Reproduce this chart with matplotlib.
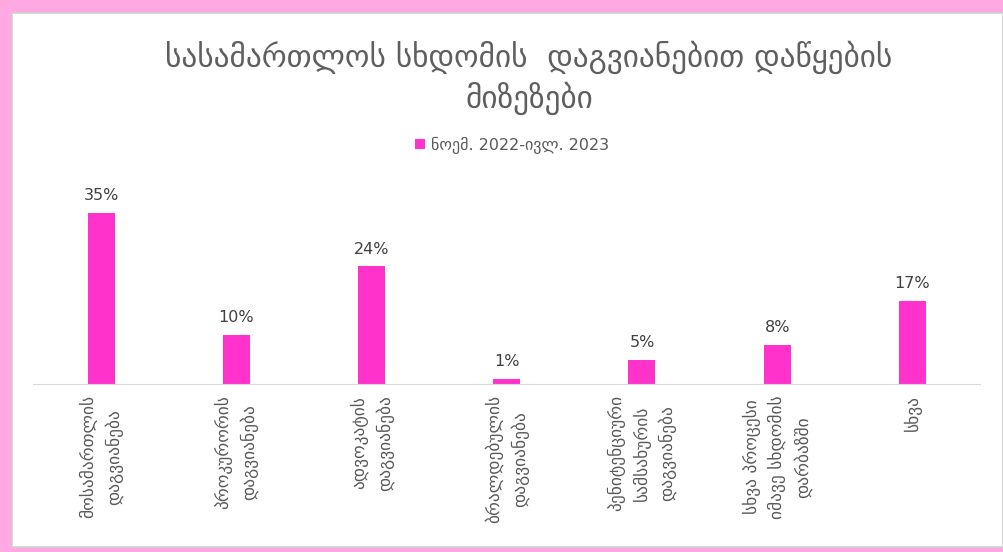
import matplotlib
matplotlib.use("Agg")
import matplotlib.pyplot as plt
from matplotlib.patches import Rectangle

title = "სასამართლოს სხდომის  დაგვიანებით დაწყების\nმიზეზები"
series_name = "ნოემ. 2022-ივლ. 2023"
categories = [
    "მოსამართლის\nდაგვიანება",
    "პროკურორის\nდაგვიანება",
    "ადვოკატის\nდაგვიანება",
    "ბრალდებულის\nდაგვიანება",
    "პენიტენციური\nსამსახურის\nდაგვიანება",
    "სხვა პროცესი\nიმავე სხდომის\nდარბაზში",
    "სხვა",
]
values = [35, 10, 24, 1, 5, 8, 17]

pink = "#FF33CC"
text_col = "#595959"

plt.rcParams["font.family"] = ["DejaVu Sans"]

fig = plt.figure(figsize=(10.04, 5.52), dpi=100)
fig.patch.set_facecolor("#FFA8E2")
# white card with thin gray edge inside the pink frame
fig.patches.append(Rectangle((12 / 1004, 5 / 552), 991 / 1004, 534 / 552,
                             transform=fig.transFigure, facecolor="white",
                             edgecolor="#D0D0D0", linewidth=1.2, zorder=-1))

ax = fig.add_axes([33.5 / 1004, 168 / 552, 946.5 / 1004, 196 / 552])
ax.set_facecolor("none")
x = range(len(categories))
bars = ax.bar(x, values, width=0.2, color=pink, label=series_name)
ax.bar_label(bars, labels=[f"{v}%" for v in values], padding=7,
             fontsize=11.5, color="#404040")
ax.set_xlim(-0.5, len(categories) - 0.5)
ax.set_ylim(0, 40)
ax.set_yticks([])
for s in ["top", "right", "left"]:
    ax.spines[s].set_visible(False)
ax.spines["bottom"].set_color("#D9D9D9")
ax.set_xticks(list(x))
ax.set_xticklabels(categories, rotation=90, fontsize=12.5, color=text_col,
                   ha="center", va="top", multialignment="center",
                   linespacing=1.5)
ax.tick_params(axis="x", length=0, pad=8)

fig.text(0.527, (552 - 78) / 552, title, ha="center", va="center",
         fontsize=22.5, color="#5f5f5f", linespacing=1.28)
fig.legend(loc="center", bbox_to_anchor=(0.51, (552 - 145) / 552),
           frameon=False, fontsize=11.5, labelcolor=text_col,
           handlelength=0.6, handleheight=0.6, handletextpad=0.4)

fig.savefig("out.png", dpi=100)
